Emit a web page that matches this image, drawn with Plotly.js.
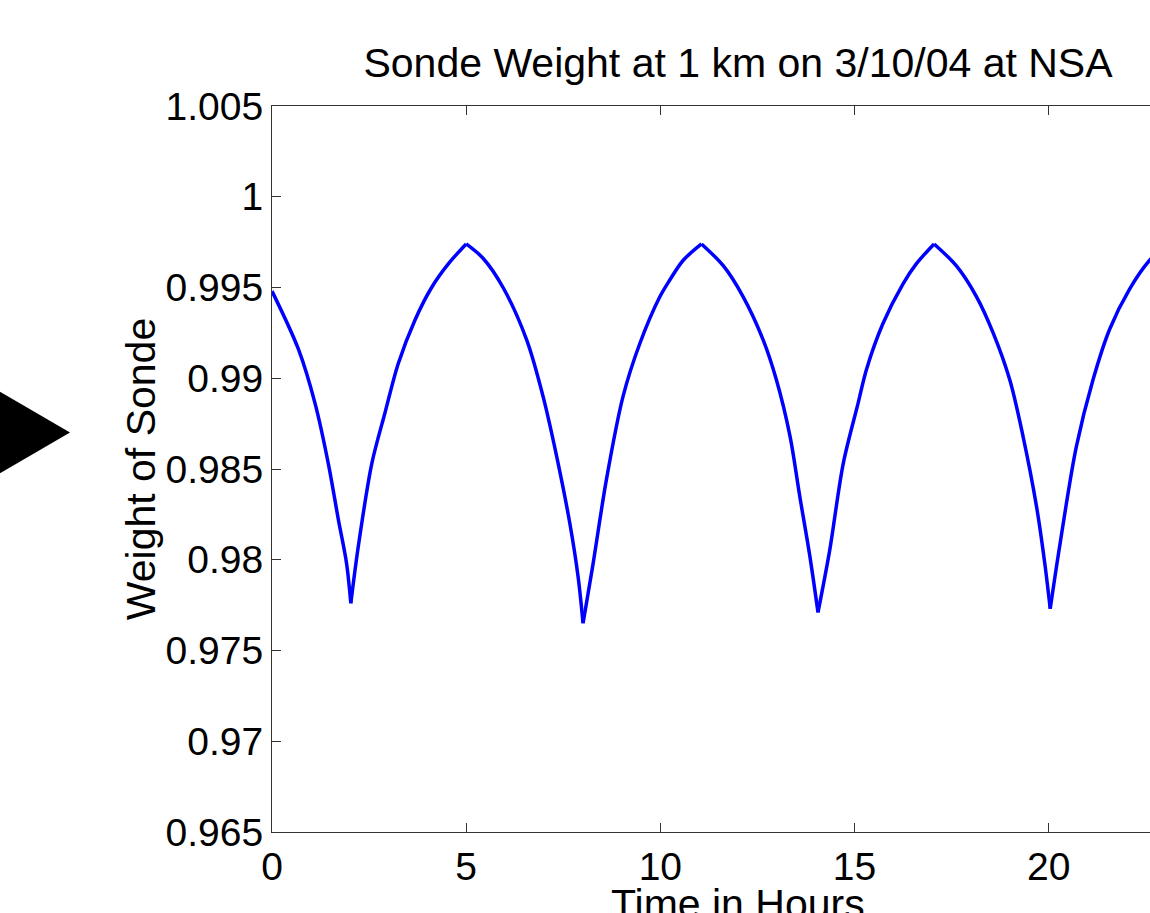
<!DOCTYPE html>
<html>
<head>
<meta charset="utf-8">
<script src="https://cdn.plot.ly/plotly-3.0.1.min.js"></script>
<style>
html,body{margin:0;padding:0;background:#fff;overflow:hidden;width:1150px;height:913px;}
#chart{width:1300px;height:913px;}
</style>
</head>
<body>
<div id="chart"></div>
<script>
// Data
var hours = [0, 0.68, 1.11, 1.45, 1.71, 1.92, 2.03, 2.22, 2.57, 2.91, 3.25, 3.68, 4.11, 4.54, 5.0,
  5.44, 5.95, 6.56, 6.98, 7.33, 7.67, 7.88, 8.01, 8.27, 8.61, 9.04, 9.47, 9.99, 10.24, 10.59, 11.06,
  11.62, 12.13, 12.65, 12.99, 13.34, 13.59, 13.85, 14.06, 14.36, 14.71, 15.09, 15.31, 15.73, 16.25, 16.59, 17.05,
  17.62, 18.14, 18.57, 19.0, 19.34, 19.69, 19.9, 20.04, 20.28, 20.71, 21.14, 21.57, 22.08, 22.6, 23.05, 23.6, 24.0];
var weight = [0.9948, 0.9916, 0.9886, 0.9853, 0.9822, 0.9798, 0.9776, 0.9807, 0.9853, 0.9881, 0.9908, 0.9932, 0.9950, 0.9963, 0.9974,
  0.9966, 0.9950, 0.9921, 0.9890, 0.9857, 0.9820, 0.9791, 0.9765, 0.9798, 0.9844, 0.9890, 0.9919, 0.9945, 0.9954, 0.9965, 0.9974,
  0.9962, 0.9945, 0.9921, 0.9899, 0.9868, 0.9835, 0.9802, 0.9771, 0.9805, 0.9853, 0.9886, 0.9905, 0.9930, 0.9952, 0.9963, 0.9974,
  0.9962, 0.9945, 0.9925, 0.9899, 0.9868, 0.9829, 0.9798, 0.9773, 0.9807, 0.9862, 0.9899, 0.9927, 0.9949, 0.9965, 0.9974, 0.9962, 0.9950];
var xTickVals = [0, 5, 10, 15, 20];
var xTickText = ['0', '5', '10', '15', '20'];
var yTickVals = [0.965, 0.97, 0.975, 0.98, 0.985, 0.99, 0.995, 1, 1.005];
var yTickText = ['0.965', '0.97', '0.975', '0.98', '0.985', '0.99', '0.995', '1', '1.005'];
var chartTitle = 'Sonde Weight at 1 km on 3/10/04 at NSA';
var xTitle = 'Time in Hours';
var yTitle = 'Weight of Sonde';

var W = 1300, H = 913;
var mL = 272, mT = 106, plotW = 932, plotH = 726;
var mR = W - mL - plotW, mB = H - mT - plotH;
function px(x){ return (x - mL) / plotW; }
function py(y){ return (mT + plotH - y) / plotH; }
var tri = 'M ' + px(-10) + ' ' + py(386) + ' L ' + px(70) + ' ' + py(432.5) + ' L ' + px(-10) + ' ' + py(479) + ' Z';

// split the curve at its cusps / peaks so each smooth arch is drawn as its own spline
var breaks = [0];
for (var i = 1; i < weight.length - 1; i++) {
  var a = weight[i] - weight[i - 1], b = weight[i + 1] - weight[i];
  if (a * b < 0) breaks.push(i);
}
breaks.push(weight.length - 1);
var traces = [];
for (var k = 0; k < breaks.length - 1; k++) {
  traces.push({
    x: hours.slice(breaks[k], breaks[k + 1] + 1),
    y: weight.slice(breaks[k], breaks[k + 1] + 1),
    type: 'scatter', mode: 'lines',
    line: {color: '#0000ff', width: 3.5, shape: 'spline', smoothing: 0.9},
    hoverinfo: 'skip'
  });
}

var font = 'Liberation Sans, Arial, Helvetica, sans-serif';
var layout = {
  width: W, height: H,
  margin: {l: mL, r: mR, t: mT, b: mB, pad: 0},
  paper_bgcolor: '#fff', plot_bgcolor: '#fff',
  showlegend: false,
  font: {family: font, color: '#000', size: 39},
  title: {text: chartTitle, font: {family: font, size: 41, color: '#000'}, x: 0.5, xref: 'paper', xanchor: 'center', y: 1, yref: 'paper', yanchor: 'bottom', pad: {b: 29}},
  xaxis: {
    range: [0, 24], tickvals: xTickVals, ticktext: xTickText,
    ticks: 'inside', ticklen: 9, tickwidth: 1, tickcolor: '#333',
    showline: true, linecolor: '#333', linewidth: 1, mirror: 'ticks',
    showgrid: false, zeroline: false, automargin: false,
    tickfont: {family: font, size: 39, color: '#000'}
  },
  yaxis: {
    range: [0.965, 1.005], tickvals: yTickVals, ticktext: yTickText,
    ticks: 'inside', ticklen: 9, tickwidth: 1, tickcolor: '#333',
    showline: true, linecolor: '#333', linewidth: 1, mirror: 'ticks',
    showgrid: false, zeroline: false, automargin: false,
    tickfont: {family: font, size: 39, color: '#000'},
    title: {text: yTitle, font: {family: font, size: 41, color: '#000'}}
  },
  annotations: [{
    text: xTitle, xref: 'paper', yref: 'paper', x: 0.5, y: py(879),
    xanchor: 'center', yanchor: 'top', showarrow: false,
    font: {family: font, size: 41, color: '#000'}
  }],
  shapes: [{type: 'path', xref: 'paper', yref: 'paper', path: tri, fillcolor: '#000', line: {width: 0}, layer: 'above'}]
};
Plotly.newPlot('chart', traces, layout, {displayModeBar: false, staticPlot: true});
</script>
</body>
</html>
